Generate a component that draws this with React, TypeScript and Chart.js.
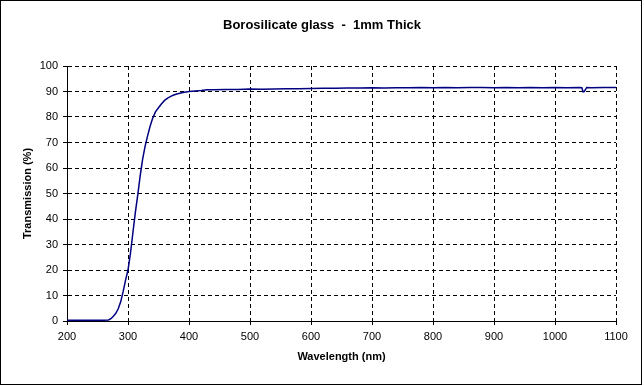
import React, { useEffect, useRef } from "react";
import { Chart, registerables } from "chart.js";

Chart.register(...registerables);

const TITLE = "Borosilicate glass  -  1mm Thick";
const X_TITLE = "Wavelength (nm)";
const Y_TITLE = "Transmission (%)";

const wavelengths = [
  200, 220, 240, 260, 268, 272, 276, 280, 284, 288, 292, 296, 300, 304, 308, 312, 316, 320, 324,
  328, 332, 336, 340, 345, 350, 355, 360, 365, 370, 375, 380, 385, 390, 400, 410, 420, 430, 440,
  460, 480, 500, 520, 540, 560, 580, 600, 620, 640, 660, 680, 700, 720, 740, 760, 780, 800, 820,
  840, 860, 880, 900, 920, 940, 960, 980, 1000, 1020, 1040, 1044, 1046, 1048, 1052, 1060, 1080,
  1100,
];

const transmission = [
  0.3, 0.3, 0.3, 0.3, 0.4, 0.9, 1.9, 3.0, 4.8, 7.5, 11.5, 16, 20, 26.5, 34.5, 42.5, 49.5, 57,
  63.5, 68.5, 72.5, 76.2, 79.2, 82, 83.6, 85.2, 86.5, 87.4, 88.1, 88.6, 89.0, 89.3, 89.6, 90.0,
  90.2, 90.4, 90.7, 90.7, 90.8, 90.8, 91.0, 90.9, 91.0, 91.1, 91.1, 91.2, 91.3, 91.3, 91.4, 91.4,
  91.5, 91.4, 91.5, 91.5, 91.6, 91.5, 91.6, 91.5, 91.6, 91.6, 91.5, 91.6, 91.5, 91.6, 91.5, 91.6,
  91.5, 91.6, 91.5, 89.9, 90.0, 91.6, 91.5, 91.6, 91.6,
];

const X_MIN = 200;
const X_MAX = 1100;
const X_STEP = 100;
const Y_MIN = 0;
const Y_MAX = 100;
const Y_STEP = 10;

const FONT = "'Liberation Sans', Arial, sans-serif";

const framePlugin = {
  id: "frameAndTitle",
  afterDraw(chart: any) {
    const ctx = chart.ctx;
    ctx.save();
    ctx.strokeStyle = "#000";
    ctx.lineWidth = 1;
    ctx.setLineDash([]);
    ctx.strokeRect(0.5, 0.5, 641, 384);
    ctx.fillStyle = "#000";
    ctx.font = `bold 13px ${FONT}`;
    ctx.textAlign = "center";
    ctx.textBaseline = "middle";
    ctx.fillText(TITLE, 322, 25);
    ctx.restore();
  },
};

export default function App() {
  const ref = useRef<HTMLCanvasElement | null>(null);

  useEffect(() => {
    document.body.style.margin = "0";
    const canvas = ref.current;
    if (!canvas) return;
    const points = wavelengths.map((x, i) => ({ x, y: transmission[i] }));
    const chart = new Chart(canvas, {
      type: "line",
      data: {
        datasets: [
          {
            data: points,
            borderColor: "#000080",
            backgroundColor: "#000080",
            borderWidth: 1.5,
            pointRadius: 0,
            tension: 0,
            fill: false,
          },
        ],
      },
      options: {
        animation: false,
        responsive: false,
        devicePixelRatio: 1,
        layout: { padding: { top: 66, right: 28, left: 0, bottom: 0 } },
        plugins: {
          legend: { display: false },
          title: { display: false },
          tooltip: { enabled: false },
        },
        scales: {
          x: {
            type: "linear",
            min: X_MIN,
            max: X_MAX,
            afterFit: (s: any) => {
              s.height = 65;
            },
            ticks: {
              stepSize: X_STEP,
              color: "#000",
              font: { family: FONT, size: 11 },
              padding: 5,
              maxRotation: 0,
              autoSkip: false,
              callback: (v: any) => String(v),
            },
            grid: {
              color: "#000",
              lineWidth: 1,
              drawTicks: true,
              tickLength: 4,
              tickColor: "#000",
              tickBorderDash: [],
            },
            border: { display: true, color: "#000", width: 1, dash: [4, 3] },
            title: {
              display: true,
              text: X_TITLE,
              color: "#000",
              font: { family: FONT, size: 11, weight: "bold" },
              padding: { top: 0, bottom: 22 },
            },
          },
          y: {
            type: "linear",
            min: Y_MIN,
            max: Y_MAX,
            afterFit: (s: any) => {
              s.width = 67;
            },
            ticks: {
              stepSize: Y_STEP,
              color: "#000",
              font: { family: FONT, size: 11 },
              padding: 5,
              autoSkip: false,
              callback: (v: any) => String(v),
            },
            grid: {
              color: "#000",
              lineWidth: 1,
              drawTicks: true,
              tickLength: 4,
              tickColor: "#000",
              tickBorderDash: [],
            },
            border: { display: true, color: "#000", width: 1, dash: [4, 3] },
            title: {
              display: true,
              text: Y_TITLE,
              color: "#000",
              font: { family: FONT, size: 11, weight: "bold" },
              padding: { top: 21.5, bottom: 0 },
            },
          },
        },
      },
      plugins: [framePlugin],
    } as any);
    return () => chart.destroy();
  }, []);

  return (
    <div style={{ width: 644, height: 386, position: "relative" }}>
      <canvas ref={ref} width={644} height={386} style={{ display: "block" }} />
    </div>
  );
}
